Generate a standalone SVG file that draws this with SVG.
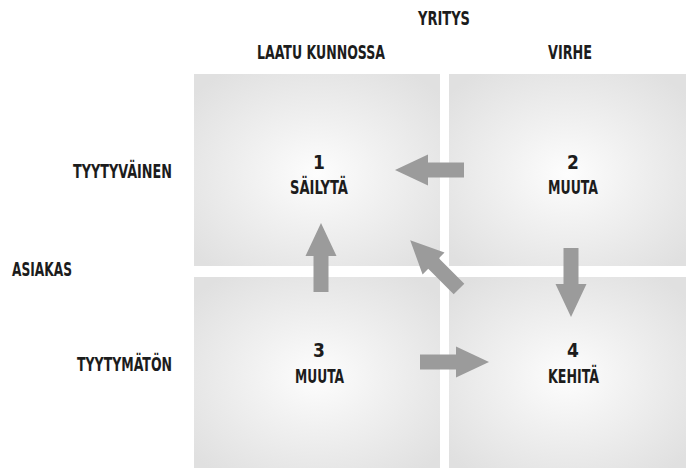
<svg xmlns="http://www.w3.org/2000/svg" width="686" height="468" viewBox="0 0 686 468">
  <style>
    .t { font-family: "Liberation Sans Narrow", "DejaVu Sans Condensed", "Liberation Sans", sans-serif; font-weight: bold; font-size: 20px; fill: #1c1c1c; }
    .n { font-family: "Liberation Sans Narrow", "DejaVu Sans Condensed", "Liberation Sans", sans-serif; font-weight: bold; font-size: 19px; fill: #1c1c1c; text-anchor: middle; }
    .q { fill: url(#glow); }
    .arrow { fill: #9b9b9b; }
  </style>
  <defs>
    <radialGradient id="glow" cx="0.5" cy="0.52" r="0.65">
      <stop offset="0" stop-color="#fdfdfd"/>
      <stop offset="0.4" stop-color="#f1f1f1"/>
      <stop offset="1" stop-color="#e0e0e0"/>
    </radialGradient>
    <polygon id="arr" points="0,-7.5 36,-7.5 36,-15.5 69,0 36,15.5 36,7.5 0,7.5"/>
  </defs>
  <rect width="686" height="468" fill="#ffffff"/>

  <g id="axis-yritys">
    <text class="t" x="418" y="25" textLength="52" lengthAdjust="spacingAndGlyphs">YRITYS</text>
  </g>
  <g id="col-laatu">
    <text class="t" x="257" y="59" textLength="128" lengthAdjust="spacingAndGlyphs">LAATU KUNNOSSA</text>
  </g>
  <g id="col-virhe">
    <text class="t" x="548" y="59" textLength="44" lengthAdjust="spacingAndGlyphs">VIRHE</text>
  </g>
  <g id="axis-asiakas">
    <text class="t" x="12" y="276" textLength="60" lengthAdjust="spacingAndGlyphs">ASIAKAS</text>
  </g>
  <g id="row-tyytyvainen">
    <text class="t" x="73" y="178" textLength="99" lengthAdjust="spacingAndGlyphs">TYYTYVÄINEN</text>
  </g>
  <g id="row-tyytymaton">
    <text class="t" x="77" y="371" textLength="95" lengthAdjust="spacingAndGlyphs">TYYTYMÄTÖN</text>
  </g>

  <g id="q1">
    <rect class="q" x="194" y="74" width="246" height="192"/>
    <text class="n" x="319" y="169">1</text>
    <text class="t" x="290" y="194" textLength="58" lengthAdjust="spacingAndGlyphs">SÄILYTÄ</text>
  </g>
  <g id="q2">
    <rect class="q" x="449" y="74" width="237" height="192"/>
    <text class="n" x="573" y="169">2</text>
    <text class="t" x="548" y="194" textLength="50" lengthAdjust="spacingAndGlyphs">MUUTA</text>
  </g>
  <g id="q3">
    <rect class="q" x="194" y="277" width="246" height="191"/>
    <text class="n" x="319" y="357">3</text>
    <text class="t" x="295" y="383" textLength="49" lengthAdjust="spacingAndGlyphs">MUUTA</text>
  </g>
  <g id="q4">
    <rect class="q" x="449" y="277" width="237" height="191"/>
    <text class="n" x="573" y="357">4</text>
    <text class="t" x="548" y="383" textLength="51" lengthAdjust="spacingAndGlyphs">KEHITÄ</text>
  </g>

  <g id="connectors" class="arrow">
    <use href="#arr" transform="translate(464,170) rotate(180)"/>
    <use href="#arr" transform="translate(321,292) rotate(-90)"/>
    <use href="#arr" transform="translate(571,248) rotate(90)"/>
    <use href="#arr" transform="translate(420,362)"/>
    <use href="#arr" transform="translate(459,289) rotate(-135)"/>
  </g>
</svg>
